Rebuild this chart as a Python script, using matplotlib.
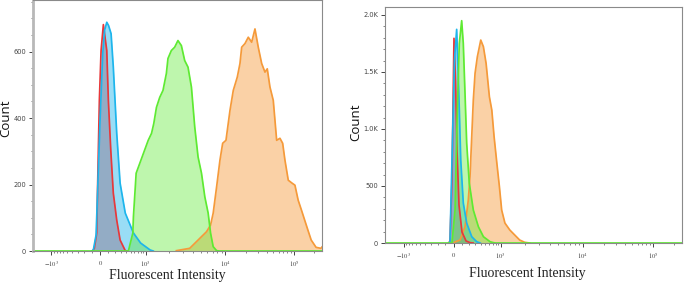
import matplotlib
matplotlib.use("Agg")
import matplotlib.pyplot as plt
import numpy as np
from matplotlib.ticker import FixedLocator, FixedFormatter, MultipleLocator

plt.rcParams['mathtext.fontset'] = 'stix'

# ---- data (intensity, count) ----
# left panel
red_x_L = [-90, -68, -39, -32, -8, 13, 42, 86, 107, 140, 176, 228, 284, 381, 420]
red_y_L = [0, 8, 54, 153, 453, 603, 681, 603, 453, 303, 174, 93, 33, 1, 0]
blue_x_L = [-100, -80, -47, -24, 0, 34, 57, 86, 110, 144, 176, 228, 284, 381, 574, 797, 1142, 1250]
blue_y_L = [0, 3, 48, 213, 393, 594, 663, 688, 678, 654, 553, 354, 204, 114, 54, 24, 3, 0]
green_x_L = [-2100, 420, 450, 557, 573, 651, 724, 906, 1078, 1190, 1272, 1375, 1513, 1665, 1837,
             1924, 2123, 2337, 2570, 2836, 3121, 3435, 3790, 4170, 4587, 5063, 5571, 6130, 6571,
             7085, 7819, 8500, 262144]
green_y_L = [0, 0, 1, 54, 103, 234, 253, 294, 333, 354, 384, 432, 462, 483, 534,
             579, 603, 613, 633, 618, 573, 553, 493, 373, 283, 234, 163, 114, 54,
             13, 1, 0, 0]
orange_x_L = [2455, 3607, 4820, 5853, 6571, 7085, 7819, 8603, 9303, 10272,
              11744, 13112, 14993, 16410, 17370, 19400, 21670, 24280, 27110, 30270,
              33930, 37890, 40920, 44790, 50020, 56030, 62580, 68510, 73980, 82630,
              92610, 103400, 115500, 129400, 144500, 161400, 180800, 213800, 252700, 262144]
orange_y_L = [1, 8, 38, 58, 78, 114, 193, 273, 324, 333,
              423, 483, 523, 564, 613, 624, 643, 628, 668, 613,
              564, 538, 548, 493, 453, 333, 339, 324, 273, 213,
              205, 198, 153, 123, 93, 63, 33, 11, 8, 12]

# right panel
red_x_R = [-60, -45, -22, -10, 1, 20, 38, 63, 101, 155, 212, 260]
red_y_R = [0, 18, 553, 1200, 1795, 1430, 816, 333, 96, 18, 3, 0]
blue_x_R = [-60, -45, -22, 7, 34, 54, 67, 85, 118, 164, 239, 323, 388]
blue_y_R = [0, 10, 728, 1605, 1874, 1458, 1166, 728, 351, 175, 55, 11, 0]
green_x_R = [-2100, -22, 14, 42, 67, 97, 118, 141, 164, 201, 264, 353, 457, 625, 724, 800, 262144]
green_y_R = [0, 0, 289, 1166, 1751, 1950, 1751, 1313, 877, 526, 289, 143, 55, 11, 3, 0, 0]
orange_x_R = [0, 14, 76, 141, 187, 212, 264, 293, 334, 400, 456, 519, 605, 675, 747, 842,
              941, 1025, 1126, 1296, 1492, 1718, 1978, 2277]
orange_y_R = [0, 9, 26, 143, 377, 581, 1254, 1488, 1634, 1780, 1722, 1576, 1283, 1166, 932, 702,
              494, 289, 175, 114, 70, 26, 6, 0]

x_ticks = [-1e3, 0, 1e3, 1e4, 1e5]
x_ticklabels = [r'$-10^{3}$', r'$0$', r'$10^{3}$', r'$10^{4}$', r'$10^{5}$']
yticks_L = [0, 200, 400, 600]
yticks_R = [0, 500, 1000, 1500, 2000]
yticklabels_R = ['0', '500', '1.0K', '1.5K', '2.0K']

colors = {'red': '#e8383a', 'blue': '#1db5ec', 'green': '#5eea32', 'orange': '#f59a3a'}

# ---- biexponential-ish axis like FlowJo, pinned on the tick positions ----
K = 300.0
anchor_vals = [-2100, -1000, 0, 1000, 1e4, 1e5, 262144]
anchor_pos = [0.0, 0.063, 0.232, 0.39, 0.665, 0.903, 1.0]

G = np.arcsinh(np.array(anchor_vals) / K)
P = np.array(anchor_pos)
s0 = (P[1] - P[0]) / (G[1] - G[0])
s1 = (P[-1] - P[-2]) / (G[-1] - G[-2])
G = np.concatenate([[G[0] - 60], G, [G[-1] + 60]])
P = np.concatenate([[P[0] - 60 * s0], P, [P[-1] + 60 * s1]])


def fwd(x):
    return np.interp(np.arcsinh(np.asarray(x, float) / K), G, P)


def inv(p):
    return K * np.sinh(np.interp(np.asarray(p, float), P, G))


minor_x = (list(range(-900, 0, 100)) + list(range(100, 1000, 100))
           + [i * 1e3 for i in range(2, 10)] + [i * 1e4 for i in range(2, 10)] + [2e5])

fig = plt.figure(figsize=(6.85, 2.83), dpi=100)
axL = fig.add_axes([33 / 685, 1 - 251 / 283, 289 / 685, 251 / 283])
axR = fig.add_axes([385 / 685, 1 - 243 / 283, 297 / 685, 236 / 283])


def draw_hist(ax, x, y, c, a=0.45):
    ax.fill_between(x, y, 0, color=c, alpha=a, lw=0)
    ax.plot(x, y, color=c, lw=1.25, solid_joinstyle='round')


for ax, series in [
    (axL, [(orange_x_L, orange_y_L, 'orange'), (red_x_L, red_y_L, 'red'),
           (blue_x_L, blue_y_L, 'blue'), (green_x_L, green_y_L, 'green')]),
    (axR, [(orange_x_R, orange_y_R, 'orange'), (red_x_R, red_y_R, 'red'),
           (blue_x_R, blue_y_R, 'blue'), (green_x_R, green_y_R, 'green')]),
]:
    for x, y, c in series:
        draw_hist(ax, x, y, colors[c], 0.4 if c == 'green' else 0.45)
    ax.set_xscale('function', functions=(fwd, inv))
    ax.set_xlim(-2100, 262144)
    ax.xaxis.set_major_locator(FixedLocator(x_ticks))
    ax.xaxis.set_major_formatter(FixedFormatter(x_ticklabels))
    ax.xaxis.set_minor_locator(FixedLocator(minor_x))
    ax.tick_params(axis='both', which='major', length=3, width=0.7, colors='#444',
                   labelsize=4.8, pad=2)
    ax.tick_params(axis='both', which='minor', length=1.6, width=0.5, colors='#555')
    ax.tick_params(axis='x', which='major', pad=3)
    for s in ax.spines.values():
        s.set_color('#8a8a8a')
        s.set_linewidth(0.8)
    ax.set_xlabel('Fluorescent Intensity', family='Liberation Serif', fontsize=10, color='#222')
    ax.set_ylabel('Count', family='Open Sans', fontsize=9.5, color='#111')

axL.set_ylim(0, 755)
axL.yaxis.set_major_locator(FixedLocator(yticks_L))
axL.yaxis.set_minor_locator(MultipleLocator(50))
axL.spines['left'].set_color('#b8b8b8')
axL.spines['left'].set_linewidth(2)
axL.xaxis.set_label_coords(0.464, -0.072)
axL.yaxis.set_label_coords(-0.072, 0.53)

axR.set_ylim(0, 2070)
axR.yaxis.set_major_locator(FixedLocator(yticks_R))
axR.yaxis.set_major_formatter(FixedFormatter(yticklabels_R))
axR.yaxis.set_minor_locator(MultipleLocator(100))
axR.xaxis.set_label_coords(0.478, -0.10)
axR.yaxis.set_label_coords(-0.077, 0.513)

fig.savefig('out.png', dpi=100)
